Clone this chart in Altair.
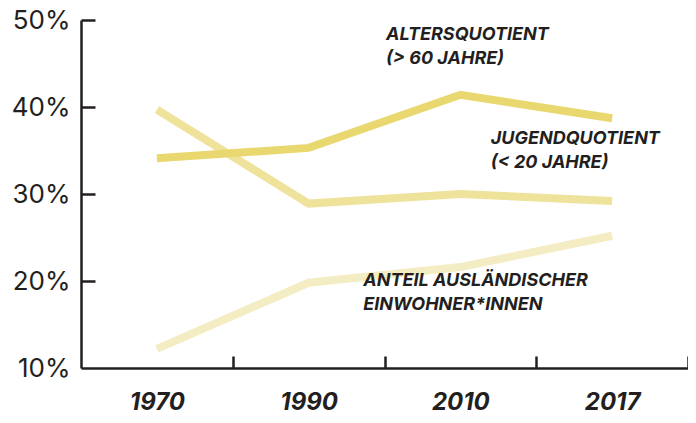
import altair as alt
import pandas as pd

# ---- data ----
years = ["1970", "1990", "2010", "2017"]
alters = [34.1, 35.3, 41.4, 38.7]
jugend = [39.7, 28.9, 30.0, 29.2]
auslaender = [12.2, 19.8, 21.6, 25.2]
series_names = ["Ausländeranteil", "Jugendquotient", "Altersquotient"]
series_colors = ["#f4ecc3", "#efe29b", "#e9d870"]

label_texts = ["ALTERSQUOTIENT\n(> 60 JAHRE)", "JUGENDQUOTIENT\n(< 20 JAHRE)",
               "ANTEIL AUSLÄNDISCHER\nEINWOHNER*INNEN"]
label_x = [1.51, 2.2, 1.36]
label_y = [49.3, 37.4, 21.0]

rows = []
for name, vals in zip(series_names, [auslaender, jugend, alters]):
    for i, (yr, v) in enumerate(zip(years, vals)):
        rows.append({"idx": i, "year": yr, "value": v, "series": name,
                     "order": series_names.index(name)})
df = pd.DataFrame(rows)
lab = pd.DataFrame({"x": label_x, "y": label_y, "text": label_texts})

INK = "#231f20"
W, H = 607, 348
FONT = "Inter"

xscale = alt.Scale(domain=[-0.5, 3.5], nice=False, zero=False)
yscale = alt.Scale(domain=[10, 50], nice=False, zero=False)

year_expr = "['" + "','".join(years) + "'][datum.value]"

lines = alt.Chart(df).mark_line(strokeWidth=8, strokeCap="butt", strokeJoin="miter").encode(
    x=alt.X("idx:Q", scale=xscale,
            axis=alt.Axis(values=[0, 1, 2, 3], labelExpr=year_expr, ticks=False, tickSize=0,
                          grid=False, title=None, domainColor=INK, domainWidth=2.5,
                          labelFont=FONT, labelFontSize=24, labelFontWeight="bold",
                          labelFontStyle="italic", labelColor=INK, labelPadding=41,
                          labelBaseline="alphabetic")),
    y=alt.Y("value:Q", scale=yscale,
            axis=alt.Axis(values=[10, 20, 30, 40, 50], labelExpr="datum.value + '%'",
                          ticks=False, tickSize=0, grid=False, title=None,
                          domainColor=INK, domainWidth=2.5, labelFont=FONT,
                          labelFontSize=26, labelFontWeight="normal", labelColor=INK,
                          labelPadding=11)),
    color=alt.Color("series:N", scale=alt.Scale(domain=series_names, range=series_colors),
                    legend=None),
    order=alt.Order("order:Q"),
    detail="series:N",
)

texts = alt.Chart(lab).mark_text(
    align="left", baseline="top", lineBreak="\n", lineHeight=24,
    font=FONT, fontSize=18, fontWeight="bold", fontStyle="italic", color=INK
).encode(
    x=alt.X("x:Q", scale=xscale,
            axis=alt.Axis(orient="top", offset=-H, values=[0.5, 1.5, 2.5, 3.5],
                          labels=False, domain=False, grid=False, title=None,
                          tickSize=12, tickWidth=2.5, tickColor=INK)),
    y=alt.Y("y:Q", scale=yscale,
            axis=alt.Axis(orient="right", offset=-W, values=[20, 30, 40, 50],
                          labels=False, domain=False, grid=False, title=None,
                          tickSize=14, tickWidth=2.5, tickColor=INK)),
    text="text:N",
)

chart = alt.layer(lines, texts).resolve_axis(x="independent", y="independent").properties(
    width=W, height=H,
    autosize=alt.AutoSizeParams(type="none"),
    padding={"left": 73, "top": 12, "right": 0, "bottom": 47},
    background="white",
).configure_view(stroke=None)

chart.save("out.html", embed_options={"renderer": "svg", "actions": False})
